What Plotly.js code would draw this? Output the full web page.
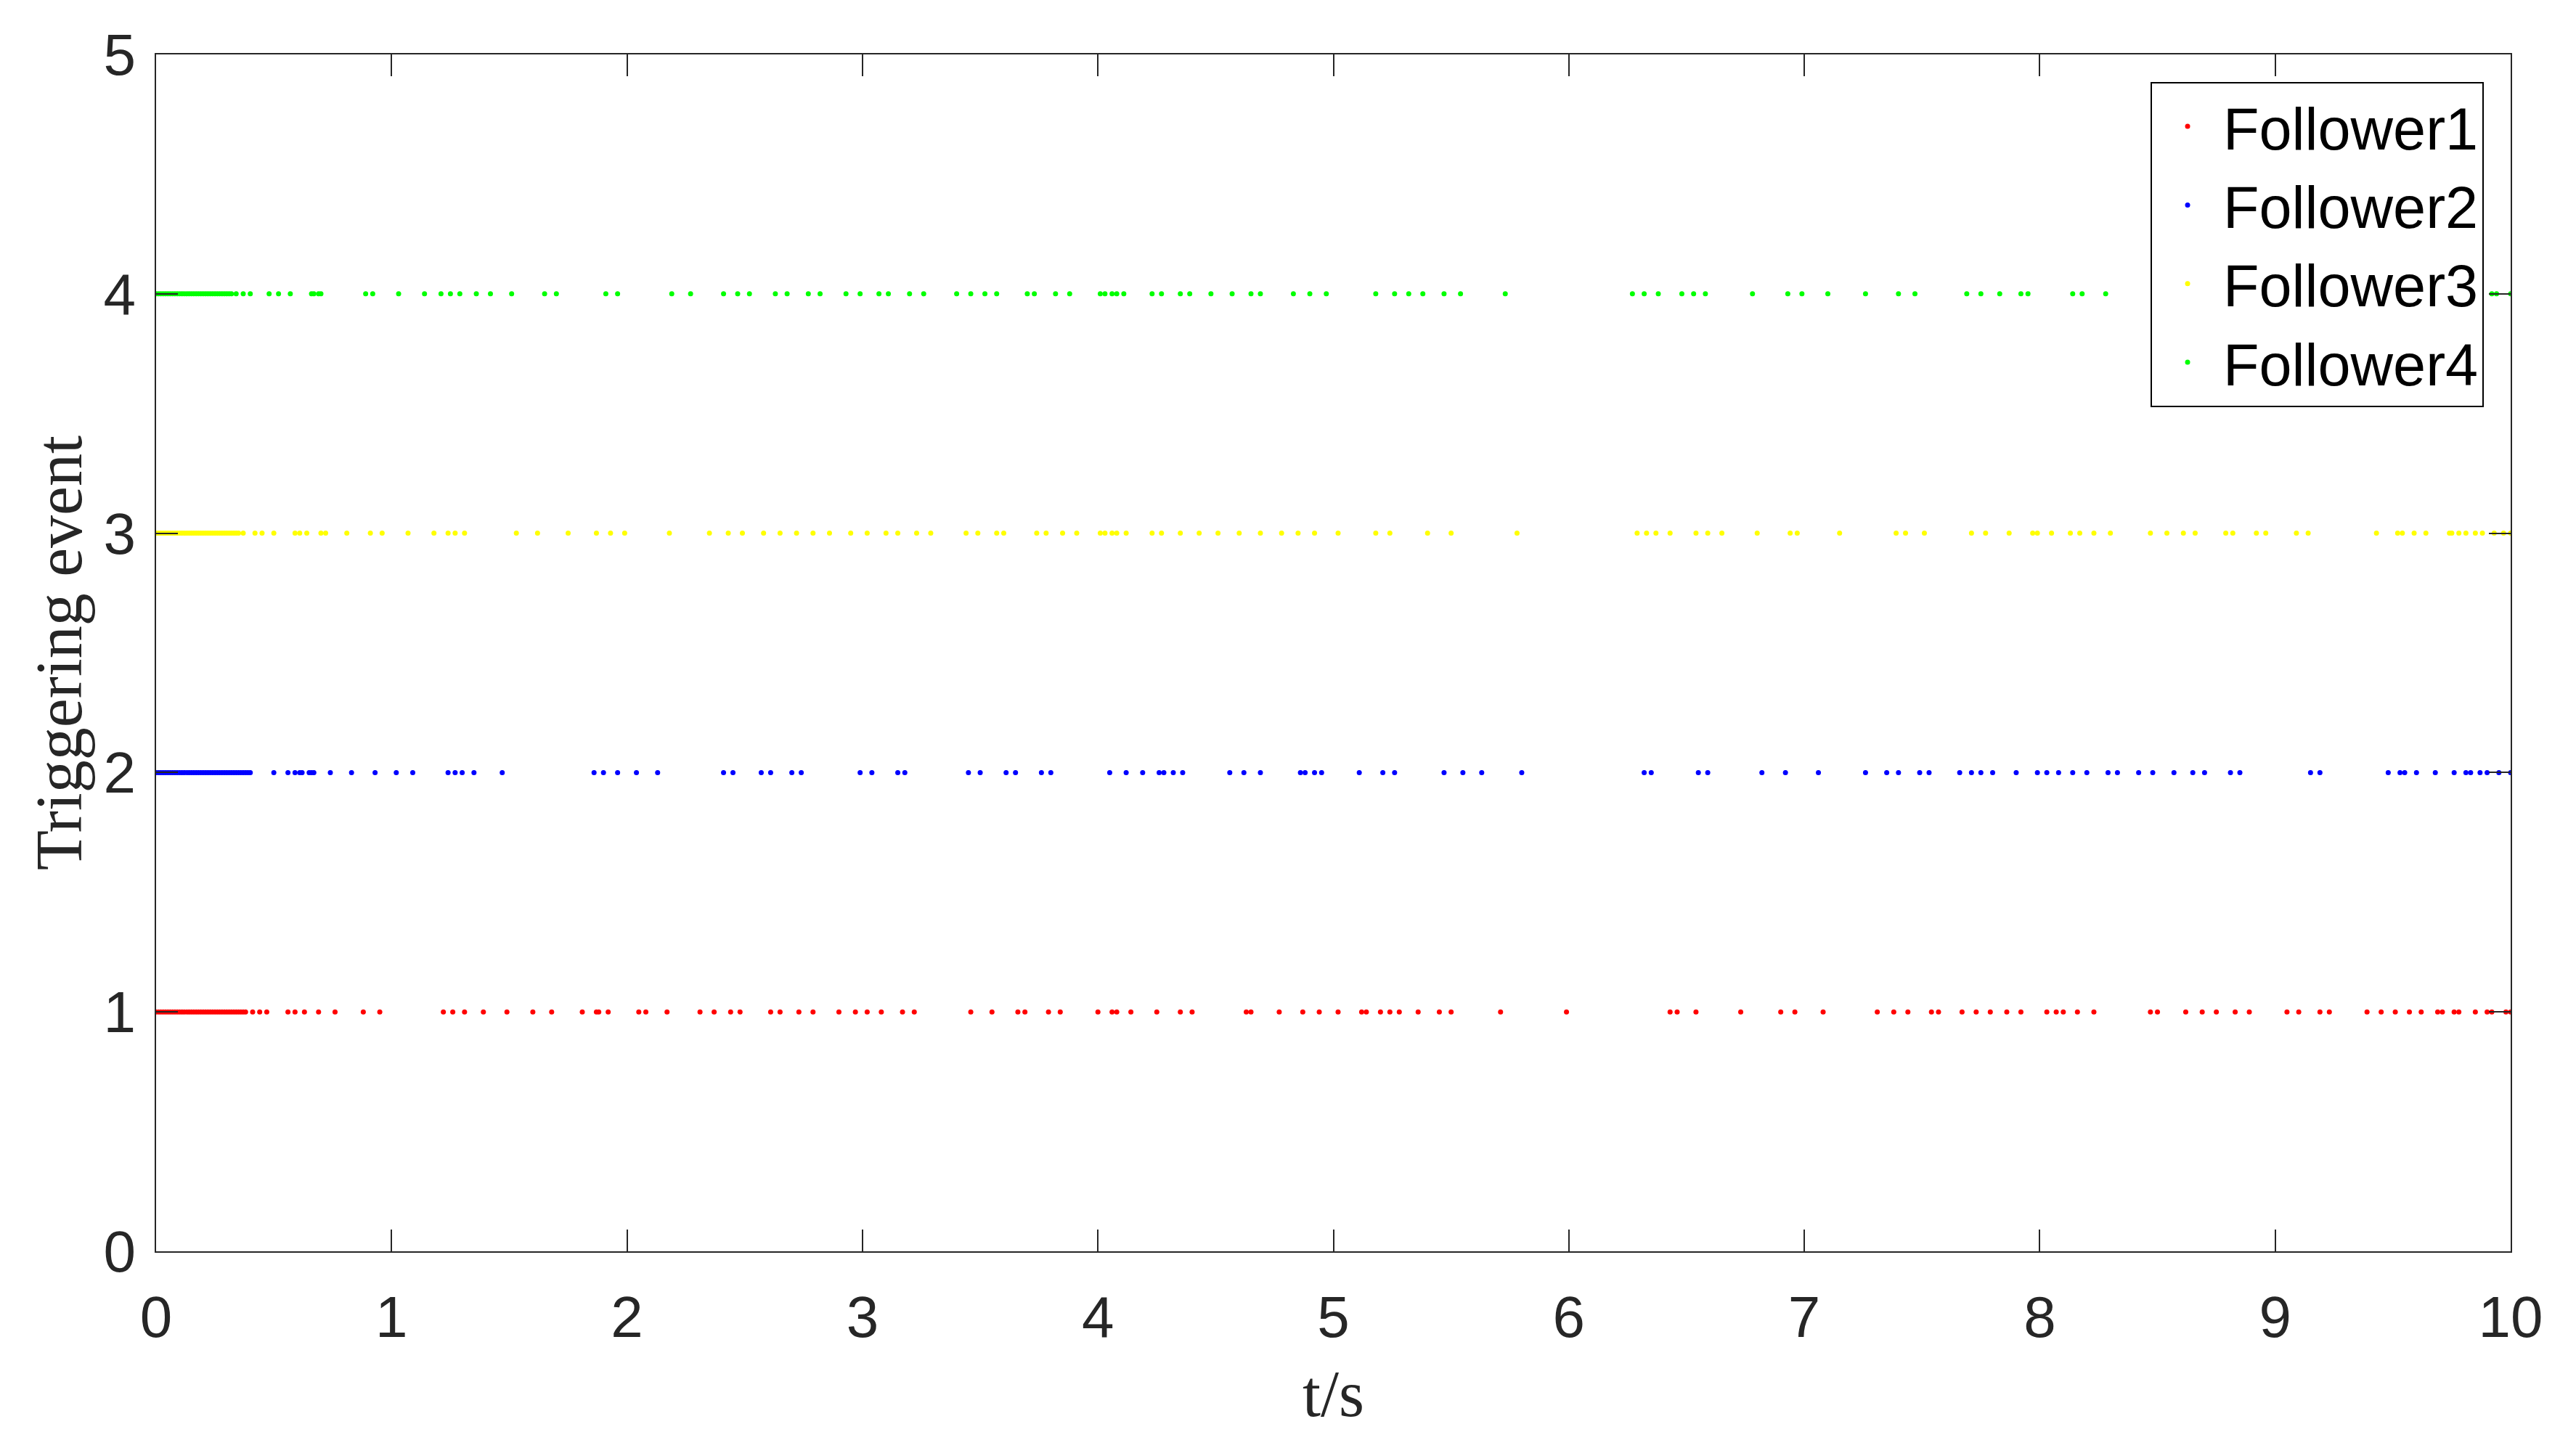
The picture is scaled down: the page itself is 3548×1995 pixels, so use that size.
<!DOCTYPE html>
<html>
<head>
<meta charset="utf-8">
<script src="https://cdn.plot.ly/plotly-3.0.1.min.js"></script>
<style>html,body{margin:0;padding:0;background:#fff;}#chart{width:3548px;height:1995px;}</style>
</head>
<body>
<div id="chart"></div>
<script>
// Event times (s), one array per follower
const follower1Times = [0,0.01,0.02,0.03,0.04,0.05,0.06,0.07,0.08,0.09,0.10,0.11,0.12,0.13,0.14,0.15,0.16,0.17,0.18,0.19,0.20,0.21,0.22,0.23,0.24,0.25,0.26,0.27,0.28,0.29,0.30,0.31,0.32,0.33,0.34,0.35,0.36,0.37,0.38,
  0.41,0.44,0.47,0.56,0.59,0.63,0.69,0.76,0.88,0.95,1.22,1.26,1.31,1.39,1.49,1.60,1.68,1.81,1.87,1.88,1.92,2.05,2.08,2.17,2.31,2.37,2.44,2.48,2.61,2.65,2.73,2.79,2.90,2.97,3.02,3.08,3.17,3.22,
  3.46,3.55,3.66,3.69,3.79,3.84,4.00,4.06,4.08,4.14,4.25,4.35,4.40,4.63,4.65,4.77,4.87,4.94,5.02,5.12,5.14,5.20,5.24,5.28,5.36,5.45,5.50,5.71,5.99,6.43,6.46,6.54,
  6.73,6.90,6.96,7.08,7.31,7.38,7.44,7.54,7.57,7.67,7.73,7.79,7.86,7.92,8.03,8.07,8.10,8.16,8.23,8.47,8.50,8.62,8.69,8.75,8.83,8.89,9.05,9.10,9.19,9.23,9.39,9.45,9.51,9.57,9.62,9.69,9.71,9.76,9.78,9.85,9.90,9.92,9.98,10.0];
const follower2Times = [0,0.01,0.02,0.03,0.04,0.05,0.06,0.07,0.08,0.09,0.10,0.11,0.12,0.13,0.14,0.15,0.16,0.17,0.18,0.19,0.20,0.21,0.22,0.23,0.24,0.25,0.26,0.27,0.28,0.29,0.30,0.31,0.32,0.33,0.34,0.35,0.36,0.37,0.38,0.39,
  0.40,0.50,0.56,0.59,0.61,0.62,0.65,0.66,0.67,0.74,0.83,0.93,1.02,1.09,1.24,1.27,1.30,1.35,1.47,1.86,1.90,1.96,2.04,2.13,2.41,2.45,2.57,2.61,2.70,2.74,2.99,3.04,3.15,3.18,
  3.45,3.50,3.61,3.65,3.76,3.80,4.05,4.12,4.19,4.26,4.28,4.32,4.36,4.56,4.62,4.69,4.86,4.88,4.92,4.95,5.11,5.21,5.26,5.47,5.55,5.63,5.80,6.32,6.35,6.55,6.59,
  6.82,6.92,7.06,7.26,7.35,7.40,7.49,7.53,7.66,7.71,7.75,7.80,7.90,7.99,8.03,8.08,8.14,8.20,8.29,8.33,8.42,8.48,8.57,8.65,8.70,8.81,8.85,9.15,9.19,9.48,9.53,9.55,9.60,9.68,9.76,9.81,9.83,9.87,9.90,9.95,10.0];
const follower3Times = [0,0.01,0.02,0.03,0.04,0.05,0.06,0.07,0.08,0.09,0.10,0.11,0.12,0.13,0.14,0.15,0.16,0.17,0.18,0.19,0.20,0.21,0.22,0.23,0.24,0.25,0.26,0.27,0.28,0.29,0.30,0.31,0.32,0.33,0.34,0.35,
  0.37,0.42,0.45,0.50,0.59,0.61,0.64,0.70,0.72,0.81,0.91,0.96,1.07,1.18,1.24,1.27,1.31,1.53,1.62,1.75,1.87,1.93,1.99,2.18,2.35,2.43,2.49,2.58,2.65,2.72,2.79,2.86,2.95,3.02,3.10,3.15,3.23,3.29,
  3.44,3.49,3.57,3.60,3.74,3.78,3.85,3.91,4.01,4.03,4.06,4.08,4.12,4.23,4.27,4.35,4.43,4.51,4.60,4.69,4.78,4.85,4.92,5.02,5.18,5.24,5.40,5.50,5.78,6.29,6.33,6.37,6.43,6.54,6.59,
  6.65,6.80,6.94,6.97,7.15,7.39,7.43,7.51,7.71,7.77,7.87,7.97,7.99,8.05,8.13,8.17,8.23,8.30,8.47,8.54,8.61,8.66,8.79,8.82,8.92,8.96,9.09,9.14,9.43,9.52,9.54,9.59,9.64,9.74,9.75,9.78,9.81,9.85,9.88,9.93,9.97,10.0];
const follower4Times = [0,0.01,0.02,0.03,0.04,0.05,0.06,0.07,0.08,0.09,0.10,0.11,0.12,0.13,0.14,0.15,0.16,0.17,0.18,0.19,0.20,0.21,0.22,0.23,0.24,0.25,0.26,0.27,0.28,0.29,0.30,0.31,0.32,
  0.34,0.37,0.40,0.48,0.52,0.57,0.66,0.67,0.69,0.70,0.89,0.92,1.03,1.14,1.21,1.25,1.29,1.36,1.42,1.51,1.65,1.70,1.91,1.96,2.19,2.27,2.41,2.47,2.52,2.63,2.68,2.77,2.82,2.93,2.99,3.07,3.11,3.20,3.26,
  3.40,3.46,3.52,3.57,3.70,3.73,3.82,3.88,4.01,4.03,4.06,4.08,4.11,4.23,4.27,4.35,4.39,4.48,4.57,4.65,4.69,4.83,4.90,4.97,5.18,5.26,5.32,5.38,5.47,5.54,5.73,6.27,6.32,6.38,6.48,6.53,6.58,
  6.78,6.93,6.99,7.10,7.26,7.40,7.47,7.69,7.75,7.83,7.92,7.95,8.14,8.18,8.28,9.92,9.94,10.0];

const seriesNames = ['Follower1','Follower2','Follower3','Follower4'];
const seriesLevels = [1, 2, 3, 4];
const seriesTimes = [follower1Times, follower2Times, follower3Times, follower4Times];
const seriesColors = ['#ff0000','#0000ff','#ffff00','#00ff00'];
const xTickVals = [0,1,2,3,4,5,6,7,8,9,10];
const yTickVals = [0,1,2,3,4,5];

const traces = seriesNames.map((name, i) => ({
  type: 'scatter',
  mode: 'markers',
  name: name,
  x: seriesTimes[i],
  y: seriesTimes[i].map(() => seriesLevels[i]),
  marker: {color: seriesColors[i], size: 7, line: {width: 0}},
  cliponaxis: true
}));

const axisColor = '#262626';
const tickFont = {family: 'Liberation Sans, Arial, sans-serif', size: 80, color: axisColor};
const titleFont = {family: 'Liberation Serif, Times New Roman, serif', size: 90, color: axisColor};

const layout = {
  width: 3548, height: 1995,
  paper_bgcolor: '#ffffff', plot_bgcolor: '#ffffff',
  margin: {l: 215, r: 90, t: 75, b: 271, pad: 0},
  showlegend: true,
  legend: {
    x: 0.9886, xanchor: 'right', y: 0.977, yanchor: 'top',
    bgcolor: '#ffffff', bordercolor: '#000000', borderwidth: 2,
    font: {family: 'Liberation Sans, Arial, sans-serif', size: 81, color: '#000000'},
    itemwidth: 88, tracegroupgap: 0
  },
  xaxis: {
    range: [0, 10], tickvals: xTickVals, ticktext: xTickVals.map(String),
    showgrid: false, zeroline: false, showline: true, linecolor: axisColor, linewidth: 2,
    mirror: 'ticks', ticks: 'inside', ticklen: 30, tickwidth: 2, tickcolor: axisColor,
    tickfont: tickFont, ticklabelstandoff: 20,
    title: {text: 't/s', font: titleFont, standoff: 30}
  },
  yaxis: {
    range: [0, 5], tickvals: yTickVals, ticktext: yTickVals.map(String),
    showgrid: false, zeroline: false, showline: true, linecolor: axisColor, linewidth: 2,
    mirror: 'ticks', ticks: 'inside', ticklen: 30, tickwidth: 2, tickcolor: axisColor,
    tickfont: tickFont, ticklabelstandoff: 10,
    title: {text: 'Triggering event', font: titleFont, standoff: 0}
  }
};

Plotly.newPlot('chart', traces, layout, {staticPlot: true, displayModeBar: false});
</script>
</body>
</html>
